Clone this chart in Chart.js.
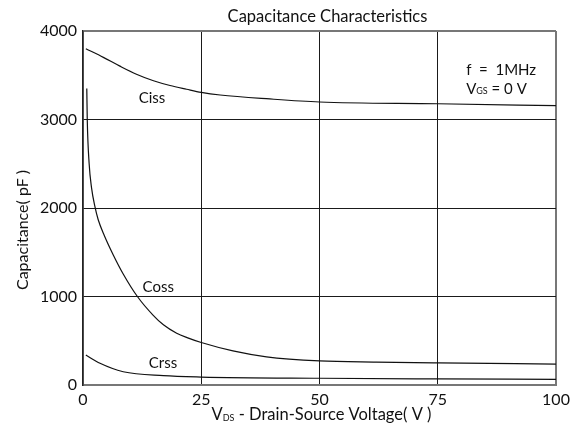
<!DOCTYPE html>
<html>
<head>
<meta charset="utf-8">
<script src="https://cdn.jsdelivr.net/npm/chart.js@4.4.0/dist/chart.umd.min.js"></script>
<style>
  html, body { margin: 0; padding: 0; background: #fff; }
  #wrap { width: 582px; height: 434px; }
</style>
</head>
<body>
<div id="wrap"><canvas id="capChart"></canvas></div>
<script>
// values (VDS in V, capacitance in pF)
const cissV = [0.6, 4.3, 7.8, 11.3, 14.9, 18.4, 21.9, 25, 29, 39.5, 50, 75, 100];
const cissC = [3800, 3702, 3603, 3512, 3438, 3384, 3342, 3307, 3277, 3232, 3198, 3178, 3156];

const cossV = [0.8, 0.9, 1.3, 1.8, 2.5, 3.2, 4.5, 6.4, 8.5, 11.5, 14.8, 17, 19.8, 22, 25, 31.7, 38.8, 50, 62, 75, 100];
const cossC = [3350, 3000, 2500, 2230, 2020, 1870, 1690, 1470, 1255, 1000, 790, 680, 585, 535, 480, 385, 318, 272, 258, 249, 237];

const crssV = [0.6, 3.6, 8.5, 17, 25, 50, 75, 100];
const crssC = [339, 245, 150, 105, 90, 76, 69, 64];

const xTicks = [0, 25, 50, 75, 100];
const yTicks = [0, 1000, 2000, 3000, 4000];

const FONT = "Lato, 'Open Sans', sans-serif";

function pts(xs, ys) {
  return xs.map((x, i) => ({ x: x, y: ys[i] }));
}

function curve(label, xs, ys) {
  return {
    label: label,
    data: pts(xs, ys),
    showLine: true,
    borderColor: '#111',
    borderWidth: 1.2,
    pointRadius: 0,
    cubicInterpolationMode: 'monotone',
    fill: false
  };
}

// texts on the plot: curve names, test conditions, titles
const textPlugin = {
  id: 'sheetText',
  afterDraw(chart) {
    const c = chart.ctx;
    const xs = chart.scales.x, ys = chart.scales.y;
    const area = chart.chartArea;
    c.save();
    c.fillStyle = '#111';
    c.textBaseline = 'middle';

    c.font = '15px ' + FONT;
    c.textAlign = 'center';
    c.fillText('Ciss', xs.getPixelForValue(14.6), ys.getPixelForValue(3243));
    c.fillText('Coss', xs.getPixelForValue(15.9), ys.getPixelForValue(1107));
    c.fillText('Crss', xs.getPixelForValue(16.9), ys.getPixelForValue(249));

    // conditions box
    c.textAlign = 'left';
    let x0 = xs.getPixelForValue(81);
    c.fillText('f  =  1MHz', x0, ys.getPixelForValue(3559));
    let yv = ys.getPixelForValue(3345);
    c.fillText('V', x0, yv);
    let w = c.measureText('V').width;
    c.font = '9px ' + FONT;
    c.fillText('GS', x0 + w, yv + 2);
    w += c.measureText('GS').width;
    c.font = '15px ' + FONT;
    c.fillText(' = 0 V', x0 + w, yv);

    // chart title
    c.textAlign = 'center';
    c.font = '16.5px ' + FONT;
    c.fillText('Capacitance Characteristics', (area.left + area.right) / 2 + 8, 17);

    // x axis title with subscript
    const p1 = 'V', p2 = 'DS', p3 = ' - Drain-Source Voltage( V )';
    c.font = '16.5px ' + FONT;
    const w1 = c.measureText(p1).width, w3 = c.measureText(p3).width;
    c.font = '9px ' + FONT;
    const w2 = c.measureText(p2).width;
    let sx = (area.left + area.right) / 2 + 2 - (w1 + w2 + w3) / 2;
    c.textAlign = 'left';
    c.font = '16.5px ' + FONT;
    c.fillText(p1, sx, 415);
    c.font = '9px ' + FONT;
    c.fillText(p2, sx + w1, 418);
    c.font = '16.5px ' + FONT;
    c.fillText(p3, sx + w1 + w2, 415);

    // y axis title
    c.translate(23, 230);
    c.rotate(-Math.PI / 2);
    c.textAlign = 'center';
    c.font = '16px ' + FONT;
    c.fillText('Capacitance( pF )', 0, 0);
    c.restore();
  }
};

function edgeColor(v, lo, hi) {
  return (v === lo || v === hi) ? '#777' : '#1a1a1a';
}

new Chart(document.getElementById('capChart'), {
  type: 'scatter',
  data: {
    datasets: [
      curve('Ciss', cissV, cissC),
      curve('Coss', cossV, cossC),
      curve('Crss', crssV, crssC)
    ]
  },
  options: {
    responsive: true,
    maintainAspectRatio: false,
    animation: false,
    layout: { padding: { top: 31, right: 26, left: 0, bottom: 0 } },
    plugins: {
      legend: { display: false },
      tooltip: { enabled: false }
    },
    scales: {
      x: {
        type: 'linear',
        min: 0,
        max: 100,
        afterBuildTicks: (s) => { s.ticks = xTicks.map(v => ({ value: v })); },
        afterFit: (s) => { s.height = 49; },
        ticks: {
          color: '#111', padding: 5,
          font: { size: 16, family: FONT },
          callback: (v) => String(v)
        },
        grid: {
          drawTicks: false,
          color: (ctx) => edgeColor(ctx.tick.value, 0, 100),
          lineWidth: (ctx) => (ctx.tick.value === 100 ? 2 : 1)
        },
        border: { color: '#777', width: 2 }
      },
      y: {
        type: 'linear',
        min: 0,
        max: 4000,
        afterBuildTicks: (s) => { s.ticks = yTicks.map(v => ({ value: v })); },
        afterFit: (s) => { s.width = 83; },
        ticks: {
          color: '#111', padding: 6,
          font: { size: 16, family: FONT },
          callback: (v) => String(v)
        },
        grid: {
          drawTicks: false,
          color: (ctx) => edgeColor(ctx.tick.value, 0, 4000),
          lineWidth: (ctx) => (ctx.tick.value === 4000 ? 2 : 1)
        },
        border: { color: '#222', width: 1.5 }
      }
    }
  },
  plugins: [textPlugin]
});
</script>
</body>
</html>
